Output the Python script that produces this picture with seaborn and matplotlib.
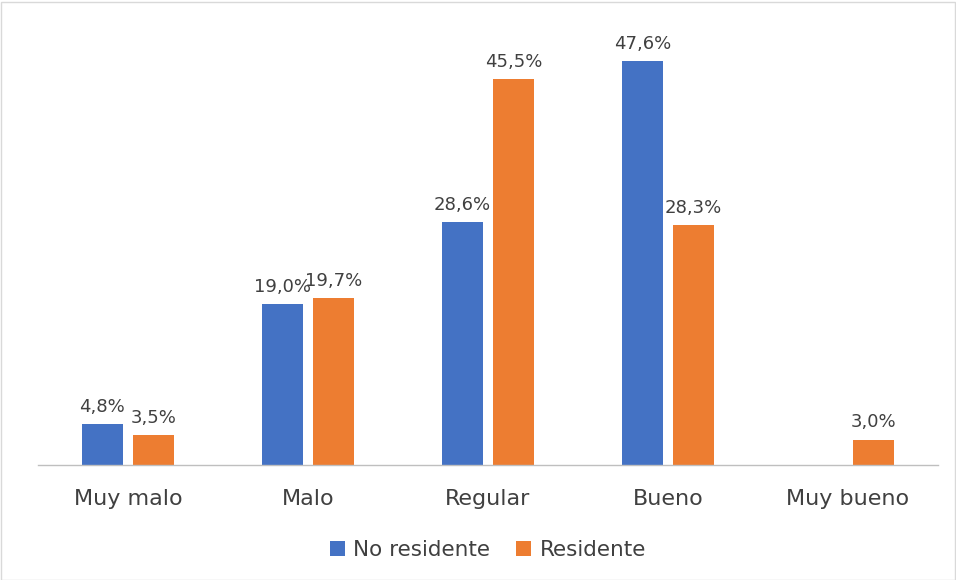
import matplotlib
matplotlib.use("Agg")
import matplotlib.pyplot as plt
import seaborn as sns
import pandas as pd
from matplotlib.patches import Rectangle

categories = ["Muy malo", "Malo", "Regular", "Bueno", "Muy bueno"]
no_residente = [4.8, 19.0, 28.6, 47.6, 0.0]
residente = [3.5, 19.7, 45.5, 28.3, 3.0]
series = ["No residente", "Residente"]
colors = ["#4472C4", "#ED7D31"]

df = pd.DataFrame({
    "cat": categories * 2,
    "val": no_residente + residente,
    "serie": [series[0]] * 5 + [series[1]] * 5,
})

sns.set_theme(style="white")
plt.rcParams["font.family"] = ["DejaVu Sans"]
txt = "#404040"

fig = plt.figure(figsize=(9.56, 5.8), dpi=100)
ax = fig.add_axes([38 / 956, 115 / 580, 900 / 956, 424 / 580])
sns.barplot(data=df, x="cat", y="val", hue="serie", order=categories,
            hue_order=series, palette=colors, width=0.57, gap=0.2,
            saturation=1, ax=ax, legend=True, linewidth=0)

for cont in ax.containers:
    labels = [("" if v == 0 else f"{v:.1f}%".replace(".", ",")) for v in cont.datavalues]
    ax.bar_label(cont, labels=labels, padding=6, fontsize=13, color=txt)

ax.set_xlim(-0.5, 4.5)
ax.set_ylim(0, 50)
ax.set_xlabel("")
ax.set_ylabel("")
ax.set_yticks([])
for s in ["top", "left", "right"]:
    ax.spines[s].set_visible(False)
ax.spines["bottom"].set_color("#BFBFBF")
ax.spines["bottom"].set_linewidth(1)
ax.tick_params(axis="x", length=0, pad=17, labelsize=16, colors=txt)

leg = ax.legend(loc="center", ncol=2, frameon=False, fontsize=15.5,
                handlelength=0.7, handleheight=0.7, columnspacing=1.2, handletextpad=0.4)
for t in leg.get_texts():
    t.set_color(txt)
leg.set_bbox_to_anchor((0.5, (580 - 550 - 115) / 424), transform=ax.transAxes)

fig.patches.append(Rectangle((0.5 / 956, 0.5 / 580), 954 / 956, 578 / 580,
                             transform=fig.transFigure, fill=False,
                             edgecolor="#D9D9D9", linewidth=1))

fig.savefig("out.png", dpi=100)
